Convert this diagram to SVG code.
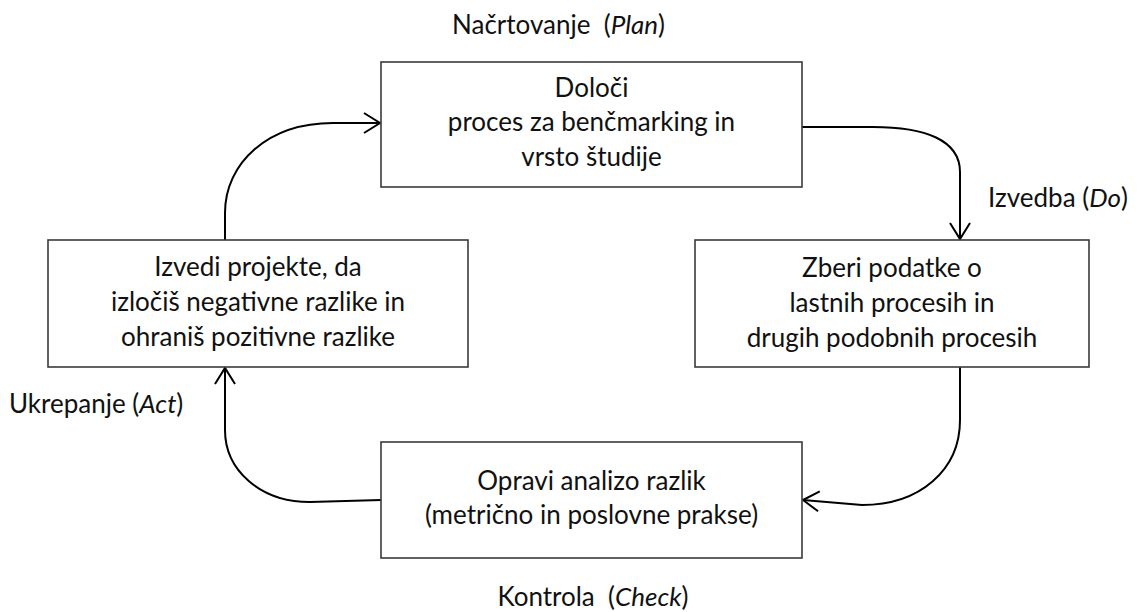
<svg xmlns="http://www.w3.org/2000/svg" width="1140" height="612" viewBox="0 0 1140 612">
  <style>
    .box { fill: #ffffff; stroke: #3a3a3a; stroke-width: 1.6; }
    .t { font-family: Lato, "Open Sans", "Liberation Sans", sans-serif; font-size: 26px; fill: #111111; text-anchor: middle; }
    .l { font-family: Lato, "Open Sans", "Liberation Sans", sans-serif; font-size: 26px; fill: #111111; }
    .c { fill: none; stroke: #000000; stroke-width: 2; }
  </style>
  <defs>
    <marker id="arr" markerUnits="userSpaceOnUse" markerWidth="24" markerHeight="24" viewBox="-18 -12 20 24" refX="0" refY="0" orient="auto">
      <path d="M-16,-10 L0,0 L-16,10" fill="none" stroke="#000000" stroke-width="2"/>
    </marker>
  </defs>
  <rect width="1140" height="612" fill="#ffffff"/>

  <g id="connectors">
    <path class="c" d="M225,240 V213 C225,163 268,123 333,123 H380" marker-end="url(#arr)"/>
    <path class="c" d="M802,127 H873 C925,127 960,140 960,172 V239" marker-end="url(#arr)"/>
    <path class="c" d="M960,367 V420 C960,470 920,505 862,505 L803,500" marker-end="url(#arr)"/>
    <path class="c" d="M381,500 L310,502 C260,502 225,470 225,430 V368" marker-end="url(#arr)"/>
  </g>

  <g id="plan">
    <rect class="box" x="381" y="62" width="421" height="125"/>
    <text class="t" x="591.5" y="97">Določi</text>
    <text class="t" x="591.5" y="131">proces za benčmarking in</text>
    <text class="t" x="591.5" y="166">vrsto študije</text>
  </g>

  <g id="do">
    <rect class="box" x="695" y="240" width="394" height="127"/>
    <text class="t" x="892" y="277">Zberi podatke o</text>
    <text class="t" x="892" y="312">lastnih procesih in</text>
    <text class="t" x="892" y="347">drugih podobnih procesih</text>
  </g>

  <g id="check">
    <rect class="box" x="381" y="442" width="421" height="116"/>
    <text class="t" x="591.5" y="490">Opravi analizo razlik</text>
    <text class="t" x="591.5" y="524">(metrično in poslovne prakse)</text>
  </g>

  <g id="act">
    <rect class="box" x="48" y="240" width="420" height="127"/>
    <text class="t" x="258" y="276">Izvedi projekte, da</text>
    <text class="t" x="258" y="311">izločiš negativne razlike in</text>
    <text class="t" x="258" y="346">ohraniš pozitivne razlike</text>
  </g>

  <g id="labels">
    <text class="l" x="452" y="34" xml:space="preserve">Načrtovanje  (<tspan font-style="italic">Plan</tspan>)</text>
    <text class="l" x="988" y="207">Izvedba (<tspan font-style="italic">Do</tspan>)</text>
    <text class="l" x="9" y="413">Ukrepanje (<tspan font-style="italic">Act</tspan>)</text>
    <text class="t" x="593" y="606" xml:space="preserve">Kontrola  (<tspan font-style="italic">Check</tspan>)</text>
  </g>
</svg>
